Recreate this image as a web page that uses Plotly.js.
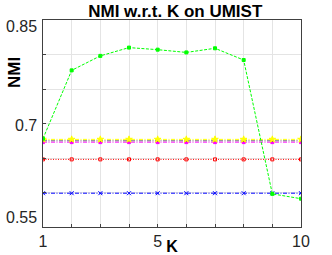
<!DOCTYPE html>
<html><head><meta charset="utf-8">
<script src="https://cdn.plot.ly/plotly-3.0.1.min.js"></script>
<style>body{margin:0;padding:0;background:#fff}#c{width:332px;height:255px}</style>
</head><body><div id="c"></div>
<script>
var K = [1,2,3,4,5,6,7,8,9,10];
var greenVals  = [0.678,0.777,0.798,0.810,0.807,0.803,0.809,0.792,0.598,0.591];
var yellowVals = [0.677,0.677,0.677,0.677,0.677,0.677,0.677,0.677,0.677,0.677];
var blackVals  = [0.675,0.675,0.675,0.675,0.675,0.675,0.675,0.675,0.675,0.675];
var magentaVals= [0.673,0.673,0.673,0.673,0.673,0.673,0.673,0.673,0.673,0.673];
var redVals    = [0.648,0.648,0.648,0.648,0.648,0.648,0.648,0.648,0.648,0.648];
var blueVals   = [0.599,0.599,0.599,0.599,0.599,0.599,0.599,0.599,0.599,0.599];
var xTickVals = [1,2,3,4,5,6,7,8,9,10];
var xTickText = ['1','','','','5','','','','','10'];
var yTickVals = [0.55,0.6,0.65,0.7,0.75,0.8,0.85];
var yLabelVals = [0.55,0.7,0.85];
var yLabelText = ['0.55','0.7','0.85'];
var yLabelShift = [10,-2,-6];

function tr(y, color, dash, sym, size, w){
  return {x:K, y:y, type:'scatter', mode:'lines+markers',
    line:{color:color, width:w||1, dash:dash},
    marker:{color:color, symbol:sym, size:size, line:{color:color, width:1}},
    showlegend:false, hoverinfo:'none'};
}
var DD = '4px,1.5px,1px,1.5px';
var data = [
  tr(blueVals,'#0000ff',DD,'x-thin',4),
  tr(redVals,'#ff0000','1px,1.5px','square-open',3),
  tr(magentaVals,'#ff00ff',DD,'square',3),
  tr(blackVals,'#555555',DD,'circle',1,0.8),
  tr(yellowVals,'#ffff00',DD,'star',5),
  tr(greenVals,'#00ff00','3px,1.5px','square',3)
];
var font = 'Liberation Sans, Arial, sans-serif';
var ann = yLabelVals.map(function(v,i){
  return {xref:'paper', yref:'y', x:0, y:v, xanchor:'right', yanchor:'middle',
    xshift:-4, yshift:yLabelShift[i], text:yLabelText[i], showarrow:false,
    font:{family:font, size:16, color:'#262626'}};
});
ann.push({xref:'paper', yref:'paper', x:-0.108, y:0.745, xanchor:'center', yanchor:'middle',
  text:'<b>NMI</b>', textangle:-90, showarrow:false, font:{family:font, size:17, color:'#000'}});
var layout = {
  width:332, height:255,
  margin:{l:43, r:31, t:19.5, b:28.3, pad:0},
  paper_bgcolor:'#fff', plot_bgcolor:'#fff',
  title:{text:'<b>NMI w.r.t. K on UMIST</b>', font:{family:font, size:17, color:'#000'}, x:0.528, xanchor:'center', y:0.955, yanchor:'middle'},
  xaxis:{range:[1,10], tickmode:'array', tickvals:xTickVals, ticktext:xTickText,
    showgrid:true, gridcolor:'#e4e4e4', gridwidth:1, zeroline:false,
    showline:true, linecolor:'#404040', linewidth:1, mirror:true,
    ticks:'inside', ticklen:3, tickcolor:'#404040',
    tickfont:{family:font, size:16, color:'#262626'},
    title:{text:'<b>K</b>', font:{family:font, size:16, color:'#000'}, standoff:0}},
  yaxis:{range:[0.55,0.85], tickmode:'array', tickvals:yTickVals, showticklabels:false,
    showgrid:true, gridcolor:'#e4e4e4', gridwidth:1, zeroline:false,
    showline:true, linecolor:'#404040', linewidth:1, mirror:true,
    ticks:'inside', ticklen:3, tickcolor:'#404040'},
  annotations:ann
};
Plotly.newPlot('c', data, layout, {staticPlot:true, displayModeBar:false});
</script></body></html>
